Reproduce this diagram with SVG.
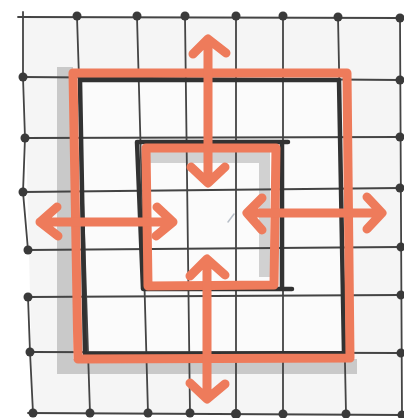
<svg xmlns="http://www.w3.org/2000/svg" width="404" height="418" viewBox="0 0 404 418">
<style>
.grid{fill:none;stroke:#444;stroke-width:1.8;stroke-linecap:round}
.dot{fill:#3a3a3a}
.dark{fill:none;stroke:#323232;stroke-width:4.5;stroke-linejoin:round;stroke-linecap:round}
.orange{fill:none;stroke:#ee7b5b;stroke-width:9;stroke-linejoin:round;stroke-linecap:round}
.arrow{fill:none;stroke:#ee7b5b;stroke-width:9;stroke-linejoin:round;stroke-linecap:round}
.shadow{fill:#c9c9c9}
</style>
<rect width="404" height="418" fill="#ffffff"/>
<polygon points="23,17 400,18 402,415 33,413" fill="#f5f5f5"/>
<polygon points="80,80 339,80 344,353 85,354" fill="#fbfbfb"/>
<g id="shadows">
<path class="shadow" d="M57,67 H73 V359 H357 V374 H57 Z"/>
<path class="shadow" d="M150,150 H270 V277 H259 V163 H150 Z" opacity="0.85"/>
</g>
<g id="grid">
<path class="grid" d="M18,17 L400,18 M23,77 L400,80 M25,138 L400,137 M23,192 L400,188 M28,250 L400,247 M28,297 L400,295 M30,352 L400,353 M28,413 L402,415"/>
<path class="grid" d="M23,12 L23,77 L25,138 L23,192 L28,250 M28,297 L30,352 L33,413 M77,17 L90,413 M137,17 L148,413 M185,17 L190,413 M236,17 L236,413 M283,17 L283,413 M338,17 L346,413 M400,18 L402,415"/>
<path d="M228,222 L234,214" stroke="#b8bfc8" stroke-width="1.5" fill="none" stroke-linecap="round"/>
<g>
<circle class="dot" cx="77" cy="16" r="4.5"/><circle class="dot" cx="137" cy="16" r="4.5"/><circle class="dot" cx="185" cy="16" r="4.5"/><circle class="dot" cx="236" cy="16" r="4.5"/><circle class="dot" cx="283" cy="16" r="4.5"/><circle class="dot" cx="338" cy="17" r="4.5"/><circle class="dot" cx="400" cy="18" r="4.5"/>
<circle class="dot" cx="23" cy="77" r="4.5"/><circle class="dot" cx="25" cy="138" r="4.5"/><circle class="dot" cx="23" cy="192" r="4.5"/><circle class="dot" cx="28" cy="250" r="4.5"/><circle class="dot" cx="28" cy="297" r="4.5"/><circle class="dot" cx="30" cy="352" r="4.5"/>
<circle class="dot" cx="400" cy="80" r="4.5"/><circle class="dot" cx="400" cy="137" r="4.5"/><circle class="dot" cx="400" cy="188" r="4.5"/><circle class="dot" cx="401" cy="247" r="4.5"/><circle class="dot" cx="401" cy="295" r="4.5"/><circle class="dot" cx="401" cy="353" r="4.5"/>
<circle class="dot" cx="33" cy="413" r="4.5"/><circle class="dot" cx="90" cy="413" r="4.5"/><circle class="dot" cx="148" cy="413" r="4.5"/><circle class="dot" cx="190" cy="413" r="4.5"/><circle class="dot" cx="236" cy="414" r="5"/><circle class="dot" cx="283" cy="414" r="4.5"/><circle class="dot" cx="346" cy="414" r="4.5"/><circle class="dot" cx="402" cy="415" r="4.5"/>
</g>
</g>
<g id="outer-square">
<path class="dark" d="M80,80 L339,80 L344,353 L85,354 Z"/>
<path class="orange" d="M73,73 L347,73 L350,358 L78,359 Z"/>
</g>
<g id="inner-square">
<path class="dark" d="M137,142 L288,142 M282,142 L282,289 M292,289 L143,289 L137,142"/>
<path class="orange" d="M146,148 L276,148 L274,285 L148,286 Z"/>
</g>
<g id="connectors">
<path class="arrow" d="M208,40 L208,182 M193,54 L208,39 L226,53 M191,167 L208,183 L225,167"/>
<path class="arrow" d="M207,260 L207,398 M190,276 L207,259 L225,275 M190,383 L207,399 L225,384"/>
<path class="arrow" d="M40,222 L173,222 M57,207 L40,222 L58,236 M157,207 L173,222 L156,236"/>
<path class="arrow" d="M247,213 L382,213 M262,198 L247,213 L262,230 M367,197 L382,213 L367,229"/>
</g>
</svg>
